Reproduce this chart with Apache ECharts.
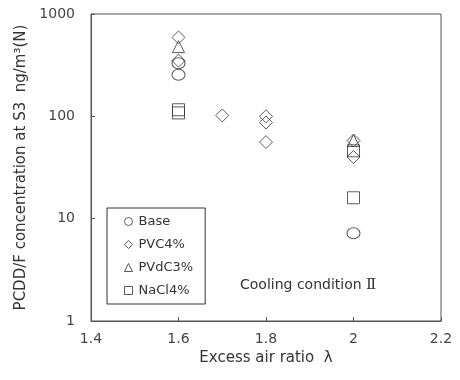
<!DOCTYPE html>
<html><head><meta charset="utf-8">
<script src="https://cdn.jsdelivr.net/npm/echarts@6/dist/echarts.min.js"></script>
<style>html,body{margin:0;padding:0;background:#fff}#c{width:460px;height:380px}</style>
</head><body><div id="c"></div>
<script>
const xTicks = [1.4, 1.6, 1.8, 2.0, 2.2];
const yTicks = [1, 10, 100, 1000];
const baseX = [1.6, 1.6, 2.0];
const baseY = [330, 255, 7.2];
const pvcX = [1.6, 1.6, 1.7, 1.8, 1.8, 1.8, 2.0, 2.0];
const pvcY = [590, 350, 102, 100, 87, 56, 58, 40];
const pvdcX = [1.6, 2.0];
const pvdcY = [480, 58];
const naclX = [1.6, 1.6, 2.0, 2.0];
const naclY = [116, 108, 46, 16];
const seriesNames = ['Base', 'PVC4%', 'PVdC3%', 'NaCl4%'];
const seriesSymbols = ['circle', 'diamond', 'triangle', 'rect'];

const FONT = 'DejaVu Sans';
const pair = (xs, ys) => xs.map((x, i) => [x, ys[i]]);
const mk = (name, symbol, size, xs, ys) => ({
  name, type: 'scatter', symbol, symbolSize: size,
  data: pair(xs, ys),
  itemStyle: { color: 'rgba(0,0,0,0)', borderColor: '#333', borderWidth: 1 },
  emphasis: { disabled: true }
});

const chart = echarts.init(document.getElementById('c'));
chart.setOption({
  animation: false,
  backgroundColor: '#fff',
  textStyle: { fontFamily: FONT },
  grid: { left: 91, top: 14, right: 19, bottom: 59, show: true, borderColor: '#555', borderWidth: 1, backgroundColor: 'transparent' },
  legend: {
    orient: 'vertical', left: 107, top: 208,
    padding: [6, 12, 6, 17], itemGap: 8, itemWidth: 8, itemHeight: 8,
    borderColor: '#333', borderWidth: 1, backgroundColor: '#fff',
    data: seriesNames.map((n, i) => ({ name: n, icon: seriesSymbols[i], itemStyle: { color: 'rgba(0,0,0,0)', borderColor: '#333', borderWidth: 1 } })),
    textStyle: { fontFamily: FONT, fontSize: 13, color: '#333', lineHeight: 15, padding: [0, 0, 0, 1] }
  },
  xAxis: {
    type: 'value', min: xTicks[0], max: xTicks[xTicks.length - 1], interval: 0.2,
    name: 'Excess air ratio  λ', nameLocation: 'middle', nameGap: 29,
    nameTextStyle: { fontSize: 15, color: '#333', fontFamily: FONT },
    axisLine: { lineStyle: { color: '#555' } },
    axisTick: { inside: true, length: 4, lineStyle: { color: '#555' } },
    splitLine: { show: false },
    axisLabel: { fontSize: 14, color: '#444', margin: 11, formatter: v => String(+v.toFixed(1)) }
  },
  yAxis: {
    type: 'log', logBase: 10, min: yTicks[0], max: yTicks[yTicks.length - 1],
    name: 'PCDD/F concentration at S3  ng/m³(N)', nameLocation: 'middle', nameGap: 56,
    nameTextStyle: { fontSize: 15, color: '#333', fontFamily: FONT },
    axisLine: { lineStyle: { color: '#555' } },
    axisTick: { inside: true, length: 4, lineStyle: { color: '#555' } },
    minorTick: { show: false },
    splitLine: { show: false },
    axisLabel: { fontSize: 14, color: '#444', margin: 16, formatter: v => String(Math.round(v)) }
  },
  graphic: [{
    type: 'text', left: 240, top: 278,
    style: {
      text: 'Cooling condition {r|Ⅱ}', fontSize: 14, fill: '#333', fontFamily: FONT,
      rich: { r: { fontFamily: 'DejaVu Serif', fontSize: 15, fill: '#333' } }
    }
  }],
  series: [
    mk(seriesNames[0], seriesSymbols[0], [13, 11], baseX, baseY),
    mk(seriesNames[1], seriesSymbols[1], 13, pvcX, pvcY),
    mk(seriesNames[2], seriesSymbols[2], 12, pvdcX, pvdcY),
    mk(seriesNames[3], seriesSymbols[3], 12, naclX, naclY)
  ]
});
</script></body></html>
